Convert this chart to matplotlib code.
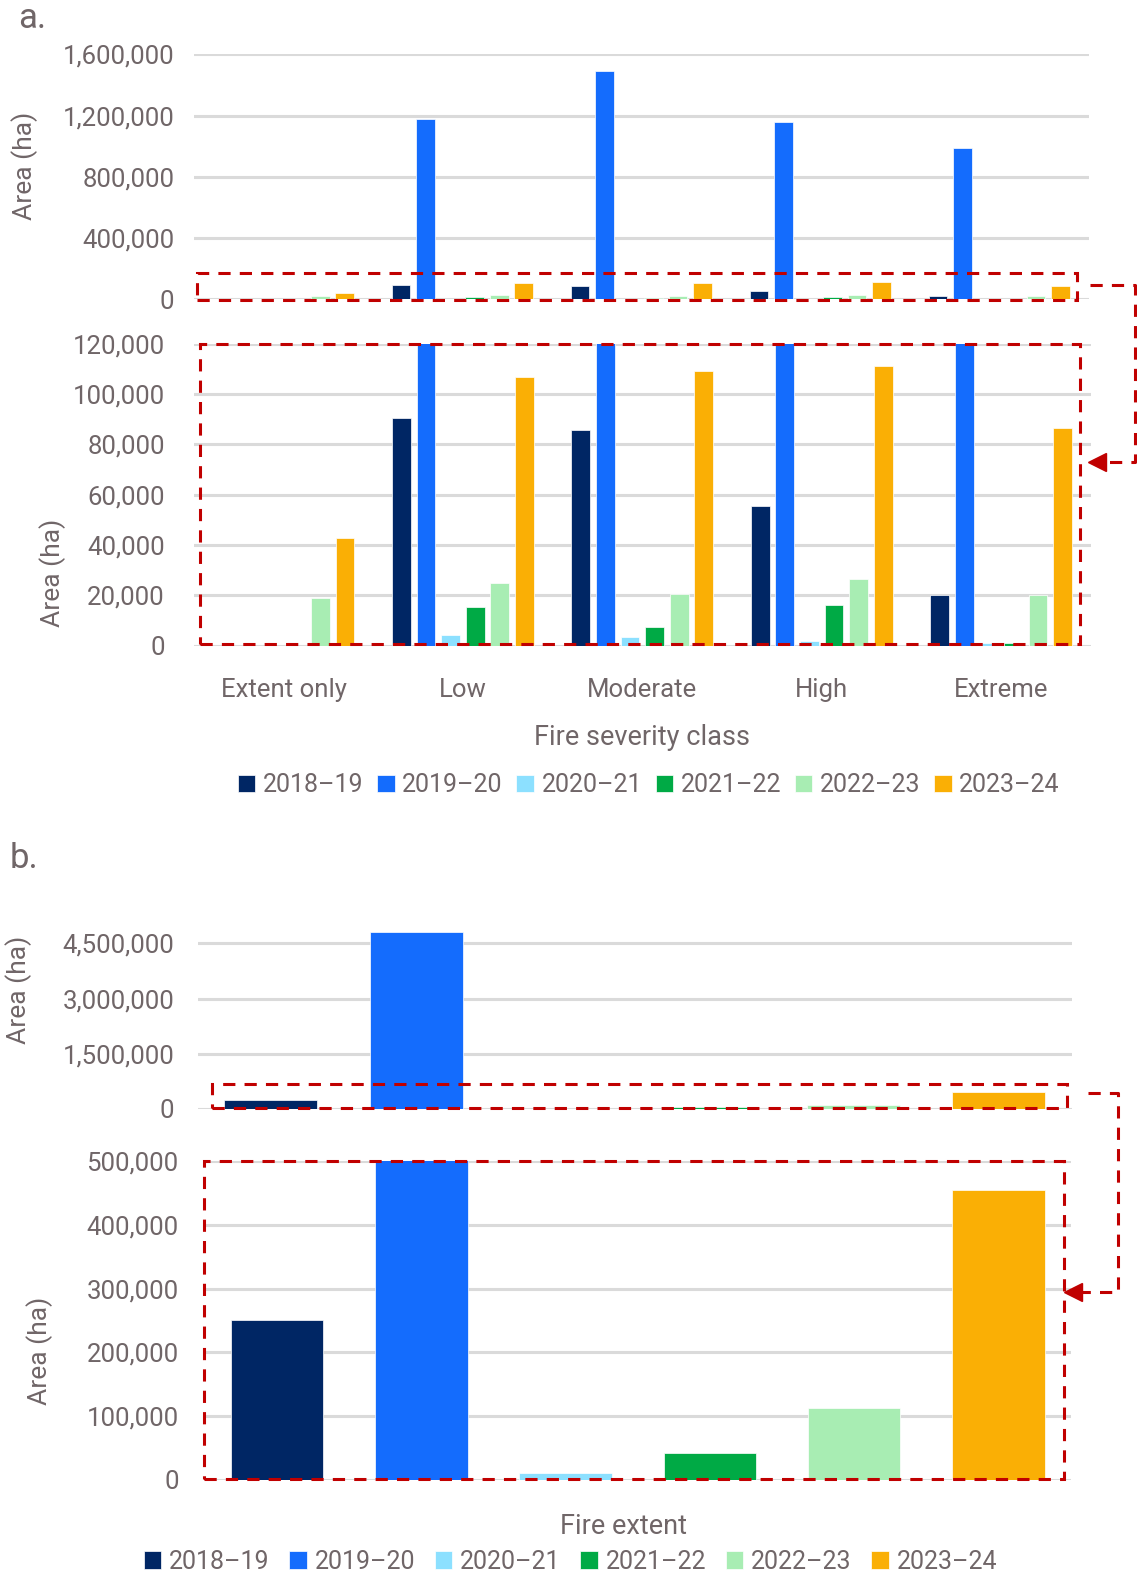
import matplotlib
matplotlib.use("Agg")
import matplotlib.pyplot as plt
import numpy as np
from matplotlib.patches import Rectangle
from matplotlib.lines import Line2D
from matplotlib.ticker import FuncFormatter

plt.rcParams['font.family'] = ['Roboto', 'DejaVu Sans']

# ---- data ----
seasons = ['2018–19', '2019–20', '2020–21', '2021–22', '2022–23', '2023–24']
colors = ['#002664', '#146CFD', '#8CE0FF', '#00AA45', '#A8EDB3', '#FAAF05']

severity = ['Extent only', 'Low', 'Moderate', 'High', 'Extreme']
sev_2018 = [0, 90500, 85700, 55400, 20000]
sev_2019 = [0, 1175000, 1493000, 1155000, 988000]
sev_2020 = [0, 4400, 3600, 2000, 1000]
sev_2021 = [0, 15500, 7600, 16300, 1000]
sev_2022 = [19100, 25100, 20700, 26700, 20000]
sev_2023 = [42700, 106900, 108900, 111200, 86500]
sev_series = [sev_2018, sev_2019, sev_2020, sev_2021, sev_2022, sev_2023]

extent = [251000, 4800000, 11000, 41000, 112000, 454000]

TXT = '#706668'
GRID = '#DADADA'
RED = '#C00000'
W, H = 1132, 1568  # reference layout units


def fx(x):
    return x / W


def fy(y):
    return 1 - y / H


def add_ax(x0, y0, x1, y1):
    return fig.add_axes([fx(x0), fy(y1), fx(x1) - fx(x0), fy(y0) - fy(y1)])


def style(ax, ticks, pad):
    for s in ax.spines.values():
        s.set_visible(False)
    ax.set_yticks(ticks)
    ax.yaxis.set_major_formatter(FuncFormatter(lambda v, p: f'{int(v):,}'))
    ax.grid(axis='y', color=GRID, lw=2.2, zorder=0)
    ax.set_axisbelow(True)
    ax.tick_params(axis='y', length=0, pad=pad, labelsize=18.5, labelcolor=TXT)
    ax.tick_params(axis='x', length=0)


fig = plt.figure(figsize=(11.37, 15.75), dpi=100)

# ---- panel a ----
xa = np.arange(len(severity))
bw, step = 0.105, 0.137

axa1 = add_ax(193, 54, 1084, 298)
axa2 = add_ax(193, 342, 1086, 643)
for ax in (axa1, axa2):
    for i, vals in enumerate(sev_series):
        ax.bar(xa + (i - 2.5) * step, vals, bw, color=colors[i],
               edgecolor='white', linewidth=0.5, zorder=2, label=seasons[i])
    ax.set_xlim(-0.5, len(severity) - 0.5)

axa1.set_ylim(0, 1600000)
style(axa1, [0, 400000, 800000, 1200000, 1600000], 14)
axa1.set_xticks([])
axa1.set_ylabel('Area (ha)', fontsize=19, color=TXT)
axa1.yaxis.set_label_coords(-0.174, 0.545)

axa2.set_ylim(0, 120000)
style(axa2, np.arange(0, 120001, 20000), 21)
axa2.set_xticks(xa)
axa2.set_xticklabels(severity, fontsize=18.5, color=TXT)
axa2.tick_params(axis='x', pad=23)
axa2.set_ylabel('Area (ha)', fontsize=19, color=TXT)
axa2.yaxis.set_label_coords(-0.142, 0.243)
axa2.set_xlabel('Fire severity class', fontsize=19.5, color=TXT, labelpad=16)

fig.text(fx(18), fy(18), 'a.', fontsize=25, color=TXT, va='center', ha='left')
h, l = axa2.get_legend_handles_labels()
fig.legend(h, l, loc='center', bbox_to_anchor=(fx(646), fy(782)), ncol=6,
           frameon=False, fontsize=18, labelcolor=TXT, handlelength=0.7,
           handleheight=0.7, handletextpad=0.3, columnspacing=0.55)

# ---- panel b ----
xb = np.arange(len(seasons))
axb1 = add_ax(197, 921, 1067, 1104)
axb2 = add_ax(204, 1156, 1066, 1473)
for ax in (axb1, axb2):
    bars = ax.bar(xb, extent, 0.64, color=colors, edgecolor='white',
                  linewidth=0.5, zorder=2)
    ax.set_xlim(-0.5, len(seasons) - 0.5)
    ax.set_xticks([])

axb1.set_ylim(0, 5000000)
style(axb1, [0, 1500000, 3000000, 4500000], 17)
axb1.set_ylabel('Area (ha)', fontsize=19, color=TXT)
axb1.yaxis.set_label_coords(-0.19, 0.65)

axb2.set_ylim(0, 500000)
style(axb2, np.arange(0, 500001, 100000), 19)
axb2.set_ylabel('Area (ha)', fontsize=19, color=TXT)
axb2.yaxis.set_label_coords(-0.175, 0.404)
axb2.set_xlabel('Fire extent', fontsize=19.5, color=TXT)
axb2.xaxis.set_label_coords(0.483, -0.105)

fig.text(fx(10), fy(855), 'b.', fontsize=25, color=TXT, va='center', ha='left')
fig.legend(list(bars), seasons, loc='center', bbox_to_anchor=(fx(568), fy(1555)),
           ncol=6, frameon=False, fontsize=18, labelcolor=TXT, handlelength=0.7,
           handleheight=0.7, handletextpad=0.3, columnspacing=0.8)

# ---- red dashed zoom boxes and connectors ----
boxes = [(196, 272, 1072, 299), (199, 342, 1075, 641),
         (211, 1079, 1062, 1103), (203, 1156, 1059, 1472)]
for x0, y0, x1, y1 in boxes:
    fig.add_artist(Rectangle((fx(x0), fy(y1)), fx(x1) - fx(x0), fy(y0) - fy(y1),
                             transform=fig.transFigure, fill=False, ec=RED,
                             lw=2.2, ls=(0, (4, 3)), zorder=10))

connectors = [([1085, 1130, 1130, 1100], [284, 284, 460, 460], (1092, 460)),
              ([1083, 1113, 1113, 1075], [1088, 1088, 1286, 1286], (1068, 1286))]
for xs, ys, tip in connectors:
    fig.add_artist(Line2D([fx(v) for v in xs], [fy(v) for v in ys],
                          transform=fig.transFigure, color=RED, lw=2.2,
                          ls=(0, (4, 3)), zorder=10))
    fig.add_artist(Line2D([fx(tip[0])], [fy(tip[1])], transform=fig.transFigure,
                          marker='<', ms=13, color=RED, mec=RED, zorder=11))

fig.savefig('out.png', dpi=100)
